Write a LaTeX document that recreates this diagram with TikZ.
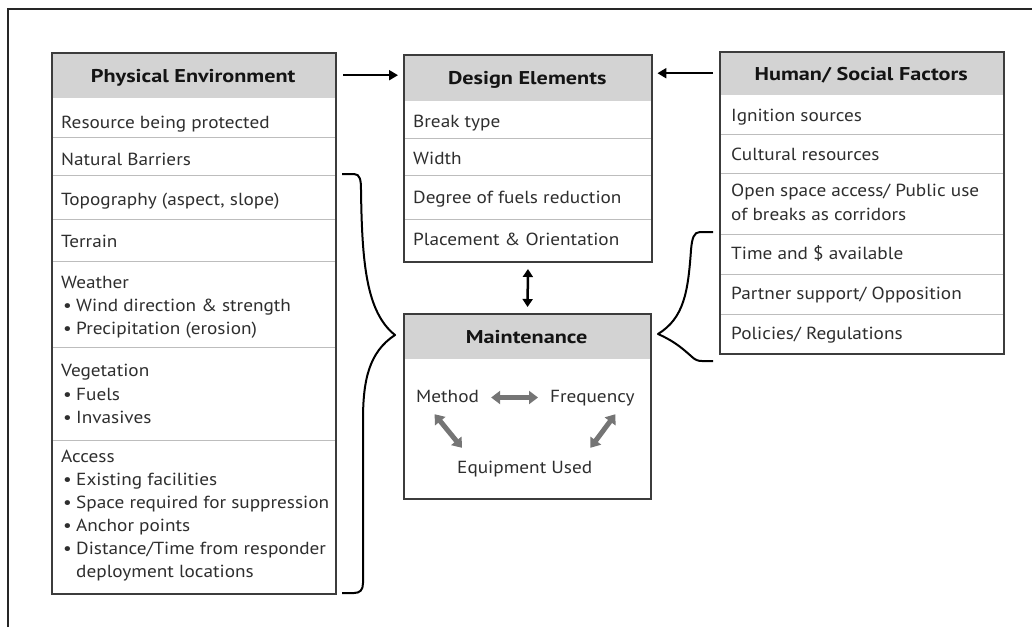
\documentclass[tikz,border=0pt]{standalone}
\usepackage{fontspec}
\setmainfont{PT Sans}[FakeStretch=1.1]
\newfontfamily\hdrfont{PT Sans}[FakeStretch=1.2]
\usetikzlibrary{arrows.meta}
\definecolor{hdrgray}{HTML}{D3D3D3}
\definecolor{boxline}{HTML}{3C3C3C}
\definecolor{rowline}{HTML}{BDBDBD}
\definecolor{txt}{HTML}{2E2E2E}
\definecolor{garr}{HTML}{757575}
\newcommand\bl{\makebox[15pt][l]{\hspace{2pt}•}}
\begin{document}
\begin{tikzpicture}[x=1pt,y=-1pt,
  box/.style={draw=boxline, line width=2pt, anchor=north west, inner sep=0pt},
  hdr/.style={fill=hdrgray, anchor=north west, inner sep=0pt, text height=14pt, text depth=0pt,
    font=\hdrfont\fontsize{18.5}{20}\selectfont\bfseries, text=black!92},
  item/.style={anchor=base west, inner sep=0pt, text height=13pt, text depth=4pt,
    font=\fontsize{17.5}{20}\selectfont, text=txt},
  row/.style={draw=rowline, line width=1pt},
  link/.style={line width=2pt, black, -{Triangle[width=10pt,length=9pt]}},
  dlink/.style={line width=2.5pt, black, {Triangle[width=10pt,length=8pt]}-{Triangle[width=10pt,length=8pt]}},
  garrow/.style={line width=5pt, garr, {Triangle[width=13pt,length=9pt]}-{Triangle[width=13pt,length=9pt]}},
  brace/.style={line width=2pt, black, line join=round}
]
\useasboundingbox (0,0) rectangle (1032,627);
% frame
\draw[line width=1.2pt, black!85] (8,627) -- (8,9) -- (1032,9);

% ---------- Physical Environment ----------
\node[hdr, minimum width=284pt, minimum height=46pt] (peh) at (51,52) {Physical Environment};
\foreach \yy in {137,175,219,261,347,440} \draw[row] (51,\yy) -- (335,\yy);
\node[box, minimum width=284pt, minimum height=541pt] (pe) at (51,52) {};
\node[item] (pe1) at (61,128) {Resource being protected};
\node[item] (pe2) at (61,165) {Natural Barriers};
\node[item] (pe3) at (61,205) {Topography (aspect, slope)};
\node[item] (pe4) at (61,247) {Terrain};
\node[item] (pe5) at (61,288) {Weather};
\node[item] (pe5a) at (61,311) {\bl Wind direction \& strength};
\node[item] (pe5b) at (61,334) {\bl Precipitation (erosion)};
\node[item] (pe6) at (61,376) {Vegetation};
\node[item] (pe6a) at (61,400) {\bl Fuels};
\node[item] (pe6b) at (61,423) {\bl Invasives};
\node[item] (pe7) at (61,462) {Access};
\node[item] (pe7a) at (61,485) {\bl Existing facilities};
\node[item] (pe7b) at (61,508) {\bl Space required for suppression};
\node[item] (pe7c) at (61,531) {\bl Anchor points};
\node[item] (pe7d) at (61,554) {\bl Distance/Time from responder};
\node[item] (pe7e) at (61,577) {\hspace{15pt}deployment locations};

% ---------- Design Elements ----------
\node[hdr, minimum width=248pt, minimum height=47pt] (deh) at (403,54) {Design Elements};
\foreach \yy in {138,175,219} \draw[row] (403,\yy) -- (651,\yy);
\node[box, minimum width=248pt, minimum height=207pt] (de) at (403,54) {};
\node[item] (de1) at (413,127) {Break type};
\node[item] (de2) at (413,164) {Width};
\node[item] (de3) at (413,203) {Degree of fuels reduction};
\node[item] (de4) at (413,245) {Placement \& Orientation};

% ---------- Human / Social Factors ----------
\node[hdr, minimum width=284pt, minimum height=44pt] (hsh) at (719,51) {Human/ Social Factors};
\foreach \yy in {134,173,234,274,314} \draw[row] (719,\yy) -- (1003,\yy);
\node[box, minimum width=284pt, minimum height=302pt] (hs) at (719,51) {};
\node[item] (hs1) at (731,121) {Ignition sources};
\node[item] (hs2) at (731,160) {Cultural resources};
\node[item] (hs3a) at (731,196) {Open space access/ Public use};
\node[item] (hs3b) at (731,220) {of breaks as corridors};
\node[item] (hs4) at (731,259) {Time and \$ available};
\node[item] (hs5) at (731,299) {Partner support/ Opposition};
\node[item] (hs6) at (731,339) {Policies/ Regulations};

% ---------- Maintenance ----------
\node[hdr, minimum width=247pt, minimum height=46pt] (mth) at (403,313) {Maintenance};
\node[box, minimum width=247pt, minimum height=185pt] (mt) at (403,313) {};
\node[item] (meth) at (416,402) {Method};
\node[item] (freq) at (550,402) {Frequency};
\node[item] (equip) at (457,473) {Equipment Used};

% ---------- connectors ----------
\draw[link, shorten <=8pt, shorten >=5pt] (peh.east) -- (peh.east -| deh.west);
\draw[link, shorten <=6pt, shorten >=6pt] (hsh.west) -- (hsh.west -| deh.east);
\draw[dlink, shorten <=6pt, shorten >=6pt] (de.south) -- (mt.north);

\draw[garrow, shorten <=12pt, shorten >=12pt] (meth.east) -- (freq.west);
\draw[garrow] ([xshift=-13pt,yshift=-8pt]meth.south) -- ([xshift=5pt,yshift=12pt]equip.north west);
\draw[garrow] ([xshift=23pt,yshift=-8pt]freq.south) -- ([xshift=-2pt,yshift=12pt]equip.north east);

% ---------- braces ----------
\coordinate (lbt) at (342,174);
\coordinate (lbb) at (342,593);
\coordinate (lbtip) at (395,335);
\draw[brace] (lbt) -- (354,174) .. controls (360,174) and (361,180) .. (361,190)
  .. controls (362,262) and (366,312) .. (lbtip)
  .. controls (369,352) and (363,380) .. (363,420) -- (363,583)
  .. controls (363,590) and (360,593) .. (354,593) -- (lbb);
\coordinate (rbt) at (713,232);
\coordinate (rbb) at (713,361);
\coordinate (rbtip) at (658,334);
\draw[brace] (rbt) -- (700,232) .. controls (694,232) and (692,238) .. (691,250)
  .. controls (688,292) and (684,318) .. (rbtip)
  .. controls (676,342) and (684,350) .. (691,356)
  .. controls (695,360) and (698,361) .. (702,361) -- (rbb);
\end{tikzpicture}
\end{document}
